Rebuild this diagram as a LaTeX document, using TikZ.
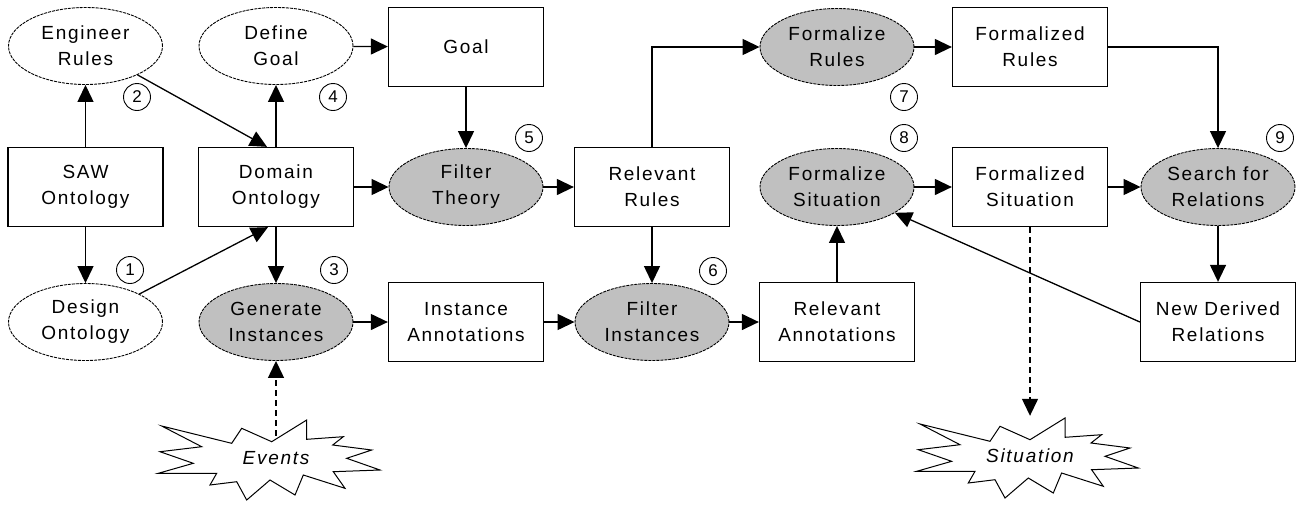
\documentclass[tikz,border=0pt]{standalone}
\usepackage{fontspec}
\usetikzlibrary{arrows.meta,shapes.geometric}
\newfontfamily\lblfont{Liberation Sans}[LetterSpace=9]
\newfontfamily\numfont{Liberation Sans}
\definecolor{procgray}{RGB}{192,192,192}

% outline of the starburst, relative to its centre
\newcommand{\burstpath}{%
  (-107.3,-34) -- (-37.3,-16.7) -- (-27.3,-31.7) -- (2.7,-18.3) -- (37.7,-40) --
  (37.7,-20.7) -- (74.3,-23.3) -- (63.7,-15) -- (102.7,-10) -- (77.7,-1.7) --
  (111,10) -- (64.3,11.7) -- (76,28.3) -- (34.3,15) -- (26,35) -- (1,20) --
  (-22.3,40) -- (-32.3,21.7) -- (-59,25) -- (-52.3,13.3) -- (-110.7,13.3) --
  (-75.7,3.3) -- (-109,-8.3) -- (-67.3,-13.3) -- cycle}

\begin{document}
\begin{tikzpicture}[x=1pt,y=-1pt,
  box/.style={draw,line width=1.3pt,minimum width=155,minimum height=79,
    align=center,font=\lblfont\fontsize{19}{26}\selectfont,inner sep=0},
  ell/.style={ellipse,draw,line width=0.9pt,dash pattern=on 3pt off 1pt,
    minimum width=154,minimum height=77,align=center,
    font=\lblfont\fontsize{19}{26}\selectfont,inner sep=0},
  proc/.style={ell,fill=procgray},
  num/.style={circle,draw,line width=0.9pt,minimum size=27,inner sep=0,
    font=\numfont\fontsize{17}{17}\selectfont},
  burst/.style={minimum width=222,minimum height=80,inner sep=0,
    font=\lblfont\itshape\fontsize{19}{26}\selectfont},
  arr/.style={-{Triangle[length=17pt,width=16pt]},line width=1.3pt},
  darr/.style={arr,dash pattern=on 6pt off 4pt}]

\useasboundingbox (0,0) rectangle (1297,504);

% first row
\node[ell]  (eng)   at (85.5,46)  {Engineer\\Rules};
\node[ell]  (defg)  at (276,46)   {Define\\Goal};
\node[box]  (goal)  at (466,47)   {Goal};
\node[proc] (fr)    at (837,47)   {Formalize\\Rules};
\node[box]  (frs)   at (1030,47)  {Formalized\\Rules};

% second row
\node[box]  (saw)   at (85.5,187) {SAW\\Ontology};
\node[box]  (dom)   at (276,187)  {Domain\\Ontology};
\node[proc] (ft)    at (466,187)  {Filter\\Theory};
\node[box]  (rr)    at (652,187)  {Relevant\\Rules};
\node[proc] (fsit)  at (837,187)  {Formalize\\Situation};
\node[box]  (fsd)   at (1030,187) {Formalized\\Situation};
\node[proc] (sfr)   at (1218,187) {Search for\\Relations};

% third row
\node[ell]  (des)   at (85.5,322) {Design\\Ontology};
\node[proc] (gen)   at (276,322)  {Generate\\Instances};
\node[box]  (ia)    at (466,322)  {Instance\\Annotations};
\node[proc] (fi)    at (652,322)  {Filter\\Instances};
\node[box]  (ra)    at (837,322)  {Relevant\\Annotations};
\node[box]  (ndr)   at (1218,322) {New Derived\\Relations};

% external inputs and outputs
\node[burst] (ev)  at (276,458)  {Events};
\draw[line width=1pt,shift={(269,460)}] \burstpath;
\node[burst] (sit) at (1030,456) {Situation};
\draw[line width=1pt,shift={(1027.3,458)}] \burstpath;

% step numbers
\node[num] at (130,270) {1};
\node[num] at (137,97)  {2};
\node[num] at (334,270) {3};
\node[num] at (333,97)  {4};
\node[num] at (529,138) {5};
\node[num] at (713,271) {6};
\node[num] at (904,97)  {7};
\node[num] at (904,138) {8};
\node[num] at (1280,138) {9};

% connectors
\draw[arr] (saw) -- (eng);
\draw[arr] (saw) -- (des);
\draw[arr] (eng) -- ([xshift=-9pt]dom.north);
\draw[arr] (des) -- ([xshift=-8pt]dom.south);
\draw[arr] (dom) -- (defg);
\draw[arr] (dom) -- (gen);
\draw[arr] (dom) -- (ft);
\draw[arr] (defg) -- (goal);
\draw[arr] (goal) -- (ft);
\draw[arr] (ft) -- (rr);
\draw[arr] (rr.north) |- (fr.west);
\draw[arr] (rr) -- (fi);
\draw[arr] (gen) -- (ia);
\draw[arr] (ia) -- (fi);
\draw[arr] (fi) -- (ra);
\draw[arr] (ra) -- (fsit);
\draw[arr] (fr) -- (frs);
\draw[arr] (frs.east) -| (sfr.north);
\draw[arr] (fsit) -- (fsd);
\draw[arr] (fsd) -- (sfr);
\draw[arr] (sfr) -- (ndr);
\draw[arr] (ndr.west) -- (fsit);
\draw[darr] (fsd.south) -- (sit.north);
\draw[darr] ([yshift=-18pt]ev.north) -- (gen.south);
\end{tikzpicture}
\end{document}
